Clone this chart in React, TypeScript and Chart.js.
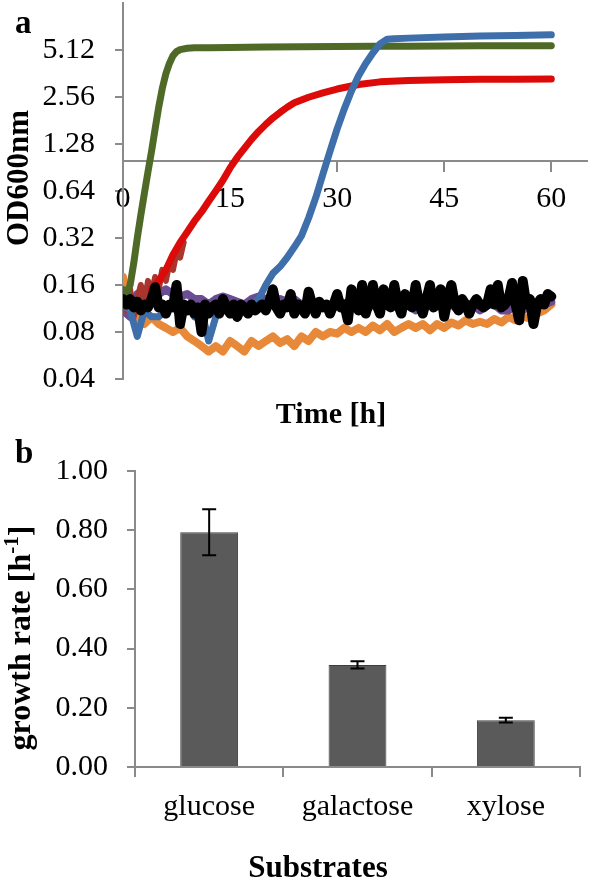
import React, { useEffect, useRef } from "react";
import { Chart, registerables } from "chart.js";

Chart.register(...registerables);

const FONT = "'Liberation Serif', 'Times New Roman', Times, serif";
const AXIS_GRAY = "#8a8a8a";

// ---------- Panel a: OD600 growth curves ----------
const timeHalf = [0,0.5,1,1.5,2,2.5,3,3.5,4,4.5,5,5.5,6,6.5,7,7.5,8,8.5,9,9.5,10,10.5,11,11.5,12,12.5,13,13.5,14,14.5,15,15.5,16,16.5,17,17.5,18,18.5,19,19.5,20,20.5,21,21.5,22,22.5,23,23.5,24,24.5,25,25.5,26,26.5,27,27.5,28,28.5,29,29.5,30,30.5,31,31.5,32,32.5,33,33.5,34,34.5,35,35.5,36,36.5,37,37.5,38,38.5,39,39.5,40,40.5,41,41.5,42,42.5,43,43.5,44,44.5,45,45.5,46,46.5,47,47.5,48,48.5,49,49.5,50,50.5,51,51.5,52,52.5,53,53.5,54,54.5,55,55.5,56,56.5,57,57.5,58,58.5,59,59.5,60];
const blackOD = [
  0.13,0.12,0.13,0.115,0.125,0.11,0.12,0.115,0.13,0.155,0.115,0.12,0.105,0.12,0.115,0.16,0.09,0.12,0.11,0.12,0.105,
  0.115,0.08,0.12,0.105,0.115,0.12,0.105,0.13,0.115,0.105,0.12,0.10,0.12,0.115,0.105,0.12,0.11,0.115,0.12,0.11,
  0.125,0.15,0.115,0.105,0.12,0.115,0.14,0.105,0.12,0.115,0.105,0.145,0.12,0.105,0.125,0.115,0.12,0.105,0.12,0.14,
  0.115,0.12,0.095,0.15,0.12,0.11,0.16,0.105,0.125,0.16,0.12,0.105,0.15,0.12,0.115,0.16,0.12,0.105,0.14,0.12,
  0.115,0.16,0.12,0.105,0.13,0.16,0.115,0.12,0.15,0.10,0.13,0.16,0.12,0.11,0.13,0.12,0.105,0.12,0.13,0.12,
  0.115,0.12,0.15,0.12,0.16,0.115,0.12,0.13,0.165,0.12,0.095,0.17,0.12,0.13,0.09,0.12,0.13,0.12,0.14,0.135,
];

const timeHour = [0,1,2,3,4,5,6,7,8,9,10,11,12,13,14,15,16,17,18,19,20,21,22,23,24,25,26,27,28,29,30,31,32,33,34,35,36,37,38,39,40,41,42,43,44,45,46,47,48,49,50,51,52,53,54,55,56,57,58,59,60];
const purpleOD = [
  0.11,0.10,0.14,0.15,0.145,0.14,0.15,0.14,0.135,0.14,0.13,0.13,0.12,0.13,0.135,0.13,0.125,0.12,0.13,0.135,
  0.13,0.12,0.13,0.125,0.13,0.12,0.115,0.12,0.12,0.11,0.12,0.12,0.13,0.12,0.11,0.12,0.12,0.13,0.12,0.12,
  0.12,0.11,0.12,0.12,0.13,0.12,0.12,0.11,0.12,0.12,0.11,0.12,0.12,0.11,0.11,0.12,0.11,0.12,0.12,0.12,
  0.125,
];
const orangeOD = [
  0.18,0.11,0.10,0.09,0.10,0.09,0.085,0.08,0.085,0.075,0.07,0.065,0.06,0.065,0.06,0.07,0.065,0.06,0.07,0.065,
  0.07,0.075,0.068,0.072,0.065,0.075,0.07,0.08,0.075,0.08,0.078,0.085,0.08,0.085,0.08,0.088,0.082,0.09,0.08,0.085,
  0.09,0.085,0.09,0.082,0.09,0.085,0.092,0.088,0.095,0.09,0.093,0.09,0.097,0.092,0.10,0.095,0.10,0.098,0.105,0.11,
  0.12,
];

const greenTime = [0,0.5,1,1.5,2,2.5,3,3.5,4,4.5,5,5.5,6,6.5,7,7.5,8,9,10,12,15,20,25,30,35,40,45,50,55,60];
const greenOD = [0.15,0.14,0.16,0.22,0.32,0.45,0.62,0.85,1.15,1.6,2.2,2.9,3.6,4.2,4.7,5.0,5.15,5.25,5.3,5.3,5.32,5.35,5.38,5.4,5.42,5.42,5.44,5.45,5.46,5.45];

const darkRedTime = [0,0.5,1,1.5,2,2.5,3,3.5,4,4.5,5,5.5,6,6.5,7,7.5,8,8.5];
const darkRedOD = [0.13,0.11,0.15,0.10,0.13,0.16,0.12,0.17,0.14,0.18,0.15,0.20,0.17,0.22,0.20,0.26,0.24,0.30];

const redTime = [4,5,6,7,8,9,10,11,12,13,14,15,16,17,18,19,20,21,22,23,24,26,28,30,33,36,40,45,50,55,60];
const redOD = [0.15,0.17,0.20,0.25,0.30,0.35,0.41,0.47,0.55,0.64,0.75,0.9,1.05,1.2,1.37,1.54,1.71,1.88,2.04,2.2,2.35,2.55,2.72,2.88,3.08,3.2,3.27,3.3,3.32,3.33,3.34];

const blueTime = [0,1,2,3,4,5,6,7,8,9,10,11,12,13,14,15,16,17,18,19,20,21,22,23,24,25,26,27,28,29,30,31,32,33,34,35,36,37,38,40,45,50,55,60];
const blueOD = [0.12,0.11,0.075,0.11,0.10,0.10,0.11,0.12,0.10,0.12,0.10,0.11,0.07,0.10,0.11,0.11,0.10,0.11,0.12,0.13,0.16,0.19,0.21,0.24,0.28,0.33,0.43,0.58,0.82,1.15,1.6,2.15,2.8,3.5,4.2,4.9,5.6,6.0,6.05,6.1,6.2,6.3,6.35,6.4];

const odTicks = [0.04,0.08,0.16,0.32,0.64,1.28,2.56,5.12];
const timeTicks = [0,15,30,45,60];

const panelATexts = { letter: "a", yTitle: "OD600nm", xTitle: "Time [h]" };

// ---------- Panel b: growth rates ----------
const substrates = ["glucose", "galactose", "xylose"];
const growthRate = [0.793, 0.345, 0.158];
const growthErr = [0.078, 0.012, 0.008];
const rateTicks = [0, 0.2, 0.4, 0.6, 0.8, 1.0];
const panelBTexts = { letter: "b", yTitleMain: "growth rate [h", yTitleSup: "-1", yTitleEnd: "]", xTitle: "Substrates" };

const pts = (t: number[], v: number[]) => t.map((x, i) => ({ x, y: v[i] }));
const line = (label: string, t: number[], v: number[], color: string, width: number) => ({
  label,
  data: pts(t, v),
  borderColor: color,
  backgroundColor: color,
  borderWidth: width,
  pointRadius: 0,
  tension: 0,
  borderJoinStyle: "round" as const,
  borderCapStyle: "round" as const,
  fill: false,
});

const axisGrid = (len: number) => ({
  drawOnChartArea: false,
  drawTicks: true,
  tickLength: len,
  color: AXIS_GRAY,
  lineWidth: 2,
});

export default function App() {
  const refA = useRef<HTMLCanvasElement>(null);
  const refB = useRef<HTMLCanvasElement>(null);

  useEffect(() => {
    const textsA = {
      id: "textsA",
      afterDraw(chart: any) {
        const ctx = chart.ctx;
        ctx.save();
        ctx.fillStyle = "#000";
        ctx.font = `bold 33px ${FONT}`;
        ctx.textAlign = "left";
        ctx.textBaseline = "alphabetic";
        ctx.fillText(panelATexts.letter, 15, 33);
        ctx.font = `bold 30px ${FONT}`;
        ctx.textAlign = "center";
        ctx.fillText(panelATexts.xTitle, 331, 423);
        ctx.translate(28, 178);
        ctx.rotate(-Math.PI / 2);
        ctx.font = `bold 31px ${FONT}`;
        ctx.fillText(panelATexts.yTitle, 0, 0);
        ctx.restore();
      },
    };

    const chartA = new Chart(refA.current!, {
      type: "line",
      data: {
        datasets: [
          line("black", timeHalf, blackOD, "#000000", 10),
          line("blue", blueTime, blueOD, "#3e6fab", 7),
          line("green", greenTime, greenOD, "#4f6a26", 7),
          line("red", redTime, redOD, "#dd0a0a", 7),
          line("darkred", darkRedTime, darkRedOD, "#a8352e", 6),
          line("purple", timeHour, purpleOD, "#6b4d93", 8),
          line("orange", timeHour, orangeOD, "#e8893a", 8),
        ],
      },
      options: {
        responsive: false,
        animation: false,
        devicePixelRatio: 1,
        layout: { padding: { top: 3, right: 4, bottom: 51, left: 0 } },
        plugins: { legend: { display: false }, tooltip: { enabled: false } },
        scales: {
          x: {
            type: "linear",
            min: 0,
            max: 65,
            position: { y: 1 } as any,
            afterBuildTicks: (s: any) => {
              s.ticks = timeTicks.map((v) => ({ value: v }));
            },
            afterFit: (s: any) => {
              s.paddingLeft = 0;
              s.paddingRight = 0;
            },
            grid: axisGrid(10),
            border: { display: true, color: AXIS_GRAY, width: 2 },
            ticks: { font: { family: FONT, size: 30 }, color: "#000", padding: 10, maxRotation: 0, autoSkip: false },
          },
          y: {
            type: "logarithmic",
            min: 0.04,
            max: 10.24,
            position: "left",
            afterBuildTicks: (s: any) => {
              s.ticks = odTicks.map((v) => ({ value: v }));
            },
            afterFit: (s: any) => {
              s.width = 123;
              s.paddingTop = 0;
              s.paddingBottom = 0;
            },
            grid: axisGrid(8),
            border: { display: true, color: AXIS_GRAY, width: 2 },
            ticks: {
              font: { family: FONT, size: 30 },
              color: "#000",
              padding: 20,
              autoSkip: false,
              callback: (v: any) => Number(v).toFixed(2),
            },
          },
        },
      } as any,
      plugins: [textsA],
    });

    const errorBars = {
      id: "errorBars",
      afterDatasetsDraw(chart: any) {
        const ctx = chart.ctx;
        const meta = chart.getDatasetMeta(0);
        const ys = chart.scales.y;
        ctx.save();
        ctx.strokeStyle = "#000";
        ctx.lineWidth = 2;
        meta.data.forEach((bar: any, i: number) => {
          const x = bar.x;
          const top = ys.getPixelForValue(growthRate[i] + growthErr[i]);
          const bot = ys.getPixelForValue(growthRate[i] - growthErr[i]);
          ctx.beginPath();
          ctx.moveTo(x, top);
          ctx.lineTo(x, bot);
          ctx.moveTo(x - 7, top);
          ctx.lineTo(x + 7, top);
          ctx.moveTo(x - 7, bot);
          ctx.lineTo(x + 7, bot);
          ctx.stroke();
        });
        ctx.restore();
      },
    };

    const textsB = {
      id: "textsB",
      afterDraw(chart: any) {
        const ctx = chart.ctx;
        ctx.save();
        ctx.fillStyle = "#000";
        ctx.font = `bold 33px ${FONT}`;
        ctx.textAlign = "left";
        ctx.textBaseline = "alphabetic";
        ctx.fillText(panelBTexts.letter, 15, 33);
        ctx.font = `bold 31px ${FONT}`;
        ctx.textAlign = "center";
        ctx.fillText(panelBTexts.xTitle, 318, 447);
        // rotated y title with superscript
        ctx.translate(30, 208);
        ctx.rotate(-Math.PI / 2);
        ctx.textAlign = "left";
        const mainFont = `bold 32px ${FONT}`;
        const supFont = `bold 21px ${FONT}`;
        ctx.font = mainFont;
        const w1 = ctx.measureText(panelBTexts.yTitleMain).width;
        const w3 = ctx.measureText(panelBTexts.yTitleEnd).width;
        ctx.font = supFont;
        const w2 = ctx.measureText(panelBTexts.yTitleSup).width;
        let x = -(w1 + w2 + w3) / 2;
        ctx.font = mainFont;
        ctx.fillText(panelBTexts.yTitleMain, x, 0);
        x += w1;
        ctx.font = supFont;
        ctx.fillText(panelBTexts.yTitleSup, x, -12);
        x += w2;
        ctx.font = mainFont;
        ctx.fillText(panelBTexts.yTitleEnd, x, 0);
        ctx.restore();
      },
    };

    const chartB = new Chart(refB.current!, {
      type: "bar",
      data: {
        labels: substrates,
        datasets: [
          {
            label: "growth rate",
            data: growthRate,
            backgroundColor: "#5a5a5a",
            borderColor: "#3e3e3e",
            borderWidth: 1,
            barPercentage: 0.39,
            categoryPercentage: 1,
          },
        ],
      },
      options: {
        responsive: false,
        animation: false,
        devicePixelRatio: 1,
        layout: { padding: { top: 41, right: 11, bottom: 0, left: 0 } },
        plugins: { legend: { display: false }, tooltip: { enabled: false } },
        scales: {
          x: {
            type: "category",
            afterFit: (s: any) => {
              s.height = 118;
            },
            grid: { ...axisGrid(10), offset: true },
            border: { display: true, color: AXIS_GRAY, width: 2 },
            ticks: { font: { family: FONT, size: 30 }, color: "#000", padding: 12, maxRotation: 0, autoSkip: false },
          },
          y: {
            type: "linear",
            min: 0,
            max: 1,
            afterBuildTicks: (s: any) => {
              s.ticks = rateTicks.map((v) => ({ value: v }));
            },
            afterFit: (s: any) => {
              s.width = 135;
            },
            grid: axisGrid(8),
            border: { display: true, color: AXIS_GRAY, width: 2 },
            ticks: {
              font: { family: FONT, size: 30 },
              color: "#000",
              padding: 19,
              autoSkip: false,
              callback: (v: any) => Number(v).toFixed(2),
            },
          },
        },
      } as any,
      plugins: [errorBars, textsB],
    });

    return () => {
      chartA.destroy();
      chartB.destroy();
    };
  }, []);

  return (
    <div style={{ position: "absolute", left: 0, top: 0, width: 591, height: 885, background: "#fff", overflow: "hidden" }}>
      <canvas ref={refA} width={591} height={430} style={{ display: "block" }} />
      <canvas ref={refB} width={591} height={455} style={{ display: "block" }} />
    </div>
  );
}
